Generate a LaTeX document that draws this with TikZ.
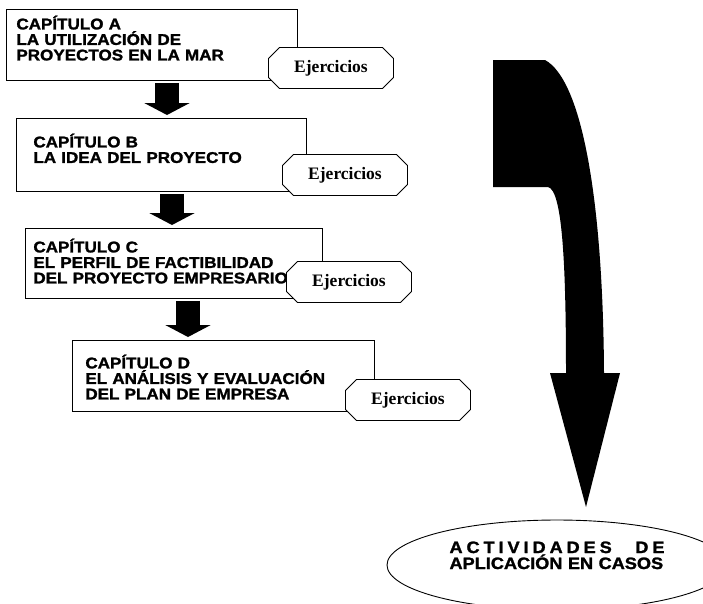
\documentclass[tikz,border=0pt]{standalone}
\usepackage{fontspec}
\setmainfont{Liberation Serif}
\newfontfamily\capfont[FakeStretch=1.1,FakeBold=1.5]{Liberation Sans Bold}
\usetikzlibrary{shapes.geometric,shapes.misc,arrows.meta}
\tikzset{
  chapbox/.style={draw, line width=0.8pt, anchor=north west, align=left,
    inner ysep=0pt, font=\capfont\fontsize{15.5}{15.5}\selectfont},
  ejbox/.style={draw, fill=white, line width=0.9pt, chamfered rectangle,
    chamfered rectangle xsep=13pt, minimum width=125pt, minimum height=41pt,
    inner sep=0pt, font=\bfseries\fontsize{17.5}{18}\selectfont},
  downarrow/.style={line width=24pt, -{Triangle[width=45pt,length=12pt]},
    shorten <=2pt, shorten >=3pt},
}
\begin{document}
\begin{tikzpicture}[x=1pt,y=-1pt]
\useasboundingbox (0,0) rectangle (703,603);
\clip (0,0) rectangle (703,603);
% chapters
\node[chapbox, inner xsep=10pt, text width=271pt, text height=20pt, text depth=51pt] (capA) at (6,9)
  {CAPÍTULO A\\LA UTILIZACIÓN DE\\PROYECTOS EN LA MAR};
\node[chapbox, inner xsep=17pt, text width=256pt, text height=29pt, text depth=44pt] (capB) at (16,118)
  {CAPÍTULO B\\LA IDEA DEL PROYECTO};
\node[chapbox, inner xsep=8pt, text width=281pt, text height=24pt, text depth=46pt] (capC) at (25,228)
  {CAPÍTULO C\\EL PERFIL DE FACTIBILIDAD\\DEL PROYECTO EMPRESARIO};
\node[chapbox, inner xsep=13pt, text width=276pt, text height=28pt, text depth=43pt] (capD) at (72,340)
  {CAPÍTULO D\\EL ANÁLISIS Y EVALUACIÓN\\DEL PLAN DE EMPRESA};
% exercises
\node[ejbox] (ejA) at (331,68) {Ejercicios};
\node[ejbox] (ejB) at (345,175) {Ejercicios};
\node[ejbox] (ejC) at (349,282) {Ejercicios};
\node[ejbox] (ejD) at (408,400) {Ejercicios};
% block arrows
\coordinate (axA) at (167,0);
\coordinate (axB) at (172,0);
\coordinate (axC) at (188,0);
\draw[downarrow] (capA.south -| axA) -- (capB.north -| axA);
\draw[downarrow] (capB.south -| axB) -- (capC.north -| axB);
\draw[downarrow] (capC.south -| axC) -- (capD.north -| axC);
% cases
\node[draw, ellipse, line width=0.9pt, minimum width=340pt, minimum height=90pt,
  align=left, text width=215pt, text height=12pt, text depth=36pt,
  font=\capfont\fontsize{16.5}{16}\selectfont] (casos) at (557,565)
  {\hbox to 215pt{A\hfil C\hfil T\hfil I\hfil V\hfil I\hfil D\hfil A\hfil D\hfil E\hfil S\hskip 0pt plus 6fil D\hfil E}\\APLICACIÓN EN CASOS};
% big curved arrow
\fill (493,60) -- (545,60) .. controls (582,80) and (603,200) .. (604,373)
  -- (620,373) -- (586,507) -- (550,373) -- (566,373)
  .. controls (566,260) and (562,190) .. (548,187) -- (493,187) -- cycle;
\end{tikzpicture}
\end{document}
